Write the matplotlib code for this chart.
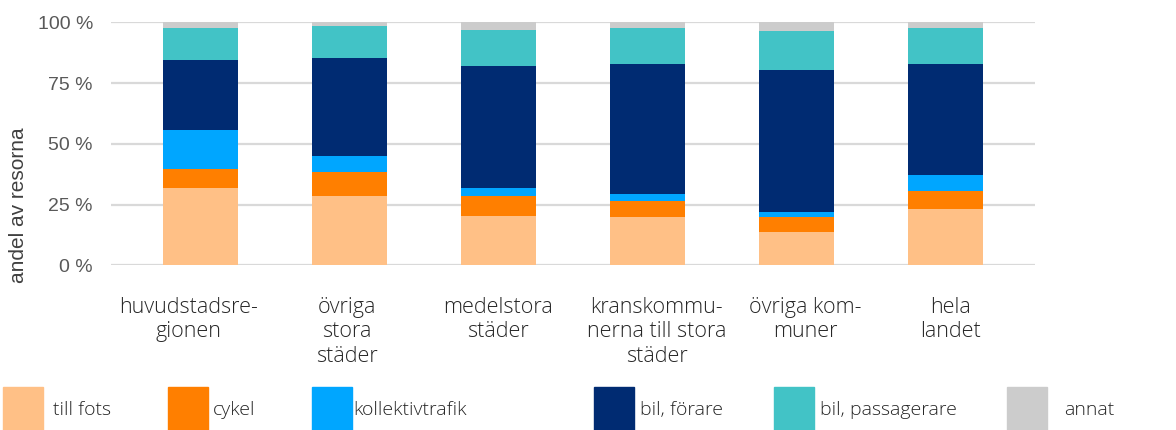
import matplotlib
matplotlib.use("Agg")
import matplotlib.pyplot as plt
from matplotlib.patches import Rectangle
from matplotlib.transforms import ScaledTranslation
import numpy as np

categories = ["huvudstadsre-\ngionen", "övriga\nstora\nstäder", "medelstora\nstäder",
              "kranskommu-\nnerna till stora\nstäder", "övriga kom-\nmuner", "hela\nlandet"]
series_names = ["till fots", "cykel", "kollektivtrafik", "bil, förare", "bil, passagerare", "annat"]
till_fots = [31.8, 28.5, 20.3, 19.9, 13.7, 23.2]
cykel = [7.8, 10.0, 8.2, 6.6, 6.2, 7.4]
kollektivtrafik = [16.1, 6.5, 3.3, 2.8, 2.0, 6.6]
bil_forare = [28.8, 40.3, 50.2, 53.5, 58.4, 45.6]
bil_passagerare = [13.2, 13.2, 14.8, 14.9, 16.1, 14.9]
annat = [2.3, 1.5, 3.2, 2.3, 3.6, 2.3]
yticks = [0, 25, 50, 75, 100]
ytick_labels = ["0 %", "25 %", "50 %", "75 %", "100 %"]

colors = ["#FFC086", "#FF7F00", "#00A6FF", "#002B72", "#42C3C6", "#CCCCCC"]
series = [till_fots, cykel, kollektivtrafik, bil_forare, bil_passagerare, annat]

W, H = 1176, 430
fig = plt.figure(figsize=(W / 100, H / 100), dpi=100)
ax = fig.add_axes([111 / W, 1 - 265.3 / H, (1035 - 111) / W, (265.3 - 22.3) / H])

x = np.arange(len(categories))
bottom = np.zeros(len(categories))
for vals, c in zip(series, colors):
    ax.bar(x, vals, width=0.503, bottom=bottom, color=c, zorder=2)
    bottom += np.array(vals)

ax.set_xlim(-0.6007, len(categories) - 1 + 0.6007)
ax.set_ylim(0, 100)
ax.set_yticks(yticks)
ax.set_yticklabels(ytick_labels, fontsize=14, color="#595959", family="Liberation Sans")
ax.yaxis.grid(True, color="#D9D9D9", linewidth=1.6, zorder=0)
ax.set_axisbelow(True)
for s in ax.spines.values():
    s.set_visible(False)
ax.tick_params(axis="y", length=0, pad=13)
ax.tick_params(axis="x", length=0, pad=23)
ax.set_xticks(x)
ax.set_xticklabels(categories, fontsize=15.5, color="#262626", family="Open Sans",
                   fontweight="light", linespacing=1.2, va="top")
# small horizontal label offsets (pixels) as laid out in the original
label_dx = [-12, -3, -1, 9, 9, 5]
for lbl, dx in zip(ax.get_xticklabels(), label_dx):
    lbl.set_transform(lbl.get_transform() + ScaledTranslation(dx / 100, 0, fig.dpi_scale_trans))
ax.set_ylabel("andel av resorna", fontsize=15, color="#404040", family="Liberation Sans")
ax.yaxis.set_label_coords(-(111 - 28) / (1035 - 111), (265.3 - 205) / (265.3 - 22.3))

# legend
patch_x = [3, 168, 312, 594, 774, 1007]
text_x = [53, 213, 353, 640, 820, 1064]
for name, c, px, tx in zip(series_names, colors, patch_x, text_x):
    fig.add_artist(Rectangle((px / W, 0), 40 / W, 43 / H, transform=fig.transFigure,
                             color=c, clip_on=False))
    fig.text(tx / W, 1 - 410 / H, name, fontsize=14, color="#262626", family="Open Sans",
             fontweight="light", va="center", ha="left")

fig.savefig("out.png", dpi=100)
